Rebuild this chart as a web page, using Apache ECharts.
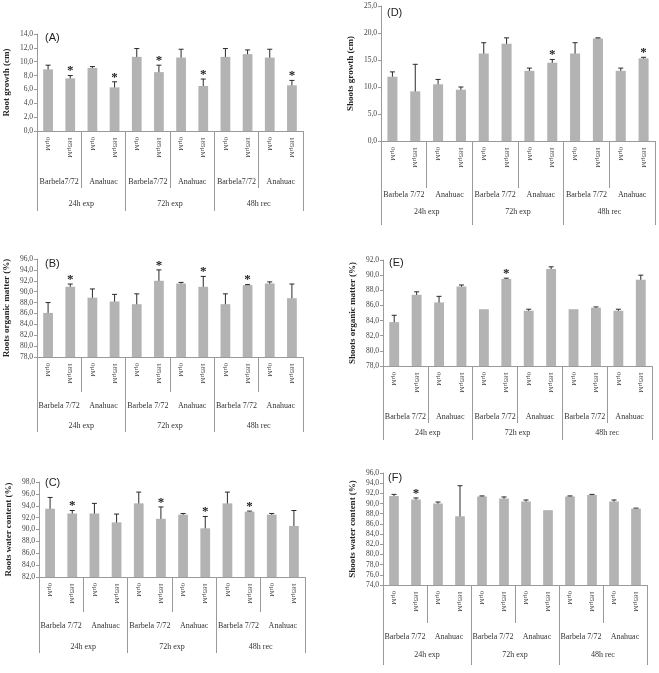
<!DOCTYPE html>
<html>
<head>
<meta charset="utf-8">
<script src="https://cdn.jsdelivr.net/npm/echarts@6/dist/echarts.min.js"></script>
<style>
  html, body { margin: 0; padding: 0; background: #fff; }
  #container { width: 659px; height: 673px; }
</style>
</head>
<body>
<div id="container"></div>
<script>
var dom = document.getElementById("container");
var myChart = echarts.init(dom);
var option;

// category levels
var doseLabels = ["0µM", "185µM", "0µM", "185µM", "0µM", "185µM", "0µM", "185µM", "0µM", "185µM", "0µM", "185µM"];
var cultivarLabels = ["Barbela 7/72", "Anahuac", "Barbela 7/72", "Anahuac", "Barbela 7/72", "Anahuac"];
var cultivarLabelsA = ["Barbela7/72", "Anahuac", "Barbela7/72", "Anahuac", "Barbela7/72", "Anahuac"];
var periodLabels = ["24h exp", "72h exp", "48h rec"];

// (A) root growth (cm)
var rootGrowth = [8.9, 7.6, 9.1, 6.3, 10.7, 8.5, 10.6, 6.5, 10.7, 11.1, 10.6, 6.6];
var rootGrowthErr = [0.6, 0.4, 0.2, 0.8, 1.2, 1.0, 1.2, 1.0, 1.2, 0.6, 1.2, 0.7];
var rootGrowthSig = [0, 1, 0, 1, 0, 1, 0, 1, 0, 0, 0, 1];

// (B) roots organic matter (%)
var rootOM = [86.1, 90.9, 88.9, 88.2, 87.7, 92.0, 91.5, 90.9, 87.7, 91.2, 91.5, 88.8];
var rootOMErr = [1.9, 0.5, 1.6, 1.3, 1.9, 2.0, 0.2, 1.9, 1.9, 0.1, 0.3, 2.6];
var rootOMSig = [0, 1, 0, 0, 0, 1, 0, 1, 0, 1, 0, 0];

// (C) roots water content (%)
var rootWC = [93.5, 92.7, 92.7, 91.2, 94.4, 91.8, 92.5, 90.2, 94.4, 93.0, 92.5, 90.6];
var rootWCErr = [1.9, 0.5, 1.7, 1.4, 1.9, 2.0, 0.2, 2.0, 1.9, 0.1, 0.2, 2.6];
var rootWCSig = [0, 1, 0, 0, 0, 1, 0, 1, 0, 1, 0, 0];

// (D) shoots growth (cm)
var shootGrowth = [11.9, 9.2, 10.5, 9.5, 16.2, 18.0, 13.0, 14.5, 16.2, 19.0, 13.0, 15.3];
var shootGrowthErr = [0.9, 5.0, 0.9, 0.5, 2.0, 1.1, 0.5, 0.6, 2.0, 0.1, 0.5, 0.2];
var shootGrowthSig = [0, 0, 0, 0, 0, 0, 0, 1, 0, 0, 0, 1];

// (E) shoots organic matter (%)
var shootOM = [83.8, 87.4, 86.4, 88.5, 85.5, 89.5, 85.3, 90.8, 85.5, 85.7, 85.3, 89.4];
var shootOMErr = [0.9, 0.4, 0.8, 0.2, 0, 0.1, 0.2, 0.3, 0, 0.1, 0.2, 0.6];
var shootOMSig = [0, 0, 0, 0, 0, 1, 0, 0, 0, 0, 0, 0];

// (F) shoots water content (%)
var shootWC = [91.5, 90.8, 90.0, 87.5, 91.4, 91.0, 90.4, 88.7, 91.4, 91.7, 90.4, 89.0];
var shootWCErr = [0.3, 0.3, 0.3, 6.0, 0.1, 0.3, 0.3, 0, 0.1, 0.1, 0.3, 0.1];
var shootWCSig = [0, 1, 0, 0, 0, 0, 0, 0, 0, 0, 0, 0];

var panels = [
    { tag: "(A)", name: "Root growth (cm)", values: rootGrowth, err: rootGrowthErr, sig: rootGrowthSig,
      min: 0, max: 14, interval: 2, cult: cultivarLabelsA,
      left: 37, top: 34, width: 266, height: 97, subLen: 57, subGap: 47, majLen: 80, majGap: 69, tagX: 45, tagY: 32 },
    { tag: "(B)", name: "Roots organic matter (%)", values: rootOM, err: rootOMErr, sig: rootOMSig,
      min: 78, max: 96, interval: 2, cult: cultivarLabels,
      left: 37, top: 259, width: 266, height: 98, subLen: 35, subGap: 45, majLen: 75, majGap: 65, tagX: 45, tagY: 258 },
    { tag: "(C)", name: "Roots water content (%)", values: rootWC, err: rootWCErr, sig: rootWCSig,
      min: 82, max: 98, interval: 2, cult: cultivarLabels,
      left: 39, top: 482, width: 266, height: 95, subLen: 35, subGap: 45, majLen: 76, majGap: 66, tagX: 45, tagY: 477 },
    { tag: "(D)", name: "Shoots growth (cm)", values: shootGrowth, err: shootGrowthErr, sig: shootGrowthSig,
      min: 0, max: 25, interval: 5, cult: cultivarLabels,
      left: 381, top: 6, width: 274, height: 135, subLen: 47, subGap: 50, majLen: 84, majGap: 67, tagX: 387, tagY: 7 },
    { tag: "(E)", name: "Shoots organic matter (%)", values: shootOM, err: shootOMErr, sig: shootOMSig,
      min: 78, max: 92, interval: 2, cult: cultivarLabels,
      left: 383, top: 260, width: 269, height: 106, subLen: 57, subGap: 47, majLen: 74, majGap: 63, tagX: 389, tagY: 257 },
    { tag: "(F)", name: "Shoots water content (%)", values: shootWC, err: shootWCErr, sig: shootWCSig,
      min: 74, max: 96, interval: 2, cult: cultivarLabels,
      left: 383, top: 473, width: 264, height: 112, subLen: 38, subGap: 48, majLen: 80, majGap: 66, tagX: 388, tagY: 472 }
];

var serif = "Liberation Serif";
var lineColor = "#9a9a9a";

function errorItem(params, api) {
    var hi = api.value(1);
    var lo = api.value(2);
    var top = api.coord([api.value(0), hi]);
    var bot = api.coord([api.value(0), lo]);
    var children = [];
    var style = { stroke: "#2a2a2a", lineWidth: 1 };
    if (hi > lo) {
        children.push({ type: "line", shape: { x1: top[0], y1: top[1], x2: bot[0], y2: bot[1] }, style: style });
        children.push({ type: "line", shape: { x1: top[0] - 2.5, y1: top[1], x2: top[0] + 2.5, y2: top[1] }, style: style });
        children.push({ type: "line", shape: { x1: bot[0] - 2.5, y1: bot[1], x2: bot[0] + 2.5, y2: bot[1] }, style: style });
    }
    if (api.value(3)) {
        children.push({
            type: "text",
            style: { text: "*", x: top[0], y: top[1] - 11, align: "center", verticalAlign: "top",
                     font: "bold 13px 'Liberation Serif'", fill: "#222" }
        });
    }
    return { type: "group", children: children };
}

var grids = [], xAxes = [], yAxes = [], series = [], titles = [];

panels.forEach(function (p, i) {
    grids.push({ left: p.left, top: p.top, width: p.width, height: p.height });

    // dose level
    xAxes.push({
        type: "category", gridIndex: i, data: doseLabels, position: "bottom",
        axisLine: { show: true, lineStyle: { color: lineColor } },
        axisTick: { show: false },
        axisLabel: { rotate: -90, margin: 6, fontSize: 7, fontFamily: serif, color: "#444", interval: 0 }
    });
    // cultivar level
    xAxes.push({
        type: "category", gridIndex: i, data: p.cult, position: "bottom",
        axisLine: { show: false },
        axisTick: { show: true, length: p.subLen, interval: 0, lineStyle: { color: lineColor } },
        axisLabel: { margin: p.subGap, fontSize: 8, fontFamily: serif, color: "#333", interval: 0 }
    });
    // period level
    xAxes.push({
        type: "category", gridIndex: i, data: periodLabels, position: "bottom",
        axisLine: { show: false },
        axisTick: { show: true, length: p.majLen, interval: 0, lineStyle: { color: lineColor } },
        axisLabel: { margin: p.majGap, fontSize: 8, fontFamily: serif, color: "#333", interval: 0 }
    });

    yAxes.push({
        type: "value", gridIndex: i, min: p.min, max: p.max, interval: p.interval,
        name: p.name, nameLocation: "middle", nameGap: 26,
        nameTextStyle: { fontFamily: serif, fontWeight: "bold", fontSize: 9, color: "#222" },
        axisLine: { show: true, lineStyle: { color: lineColor } },
        axisTick: { show: true, length: 3, lineStyle: { color: lineColor } },
        splitLine: { show: false },
        axisLabel: {
            fontSize: 7.5, fontFamily: serif, color: "#444", margin: 4,
            formatter: function (v) { return v.toFixed(1).replace(".", ","); }
        }
    });

    series.push({
        type: "bar", xAxisIndex: i * 3, yAxisIndex: i, data: p.values,
        barWidth: "44%", itemStyle: { color: "#b3b3b3" }, silent: true
    });

    series.push({
        type: "custom", xAxisIndex: i * 3, yAxisIndex: i,
        renderItem: errorItem, encode: { x: 0, y: [1, 2] }, silent: true,
        data: p.values.map(function (v, k) {
            return [k, +(v + p.err[k]).toFixed(2), +(v - p.err[k]).toFixed(2), p.sig[k]];
        })
    });

    titles.push({
        text: p.tag, left: p.tagX, top: p.tagY, padding: 0,
        textStyle: { fontFamily: "Liberation Sans", fontSize: 11, fontWeight: "normal", color: "#222" }
    });
});

option = {
    animation: false,
    title: titles,
    grid: grids,
    xAxis: xAxes,
    yAxis: yAxes,
    series: series
};

if (option && typeof option === "object") {
    myChart.setOption(option);
}
</script>
</body>
</html>
